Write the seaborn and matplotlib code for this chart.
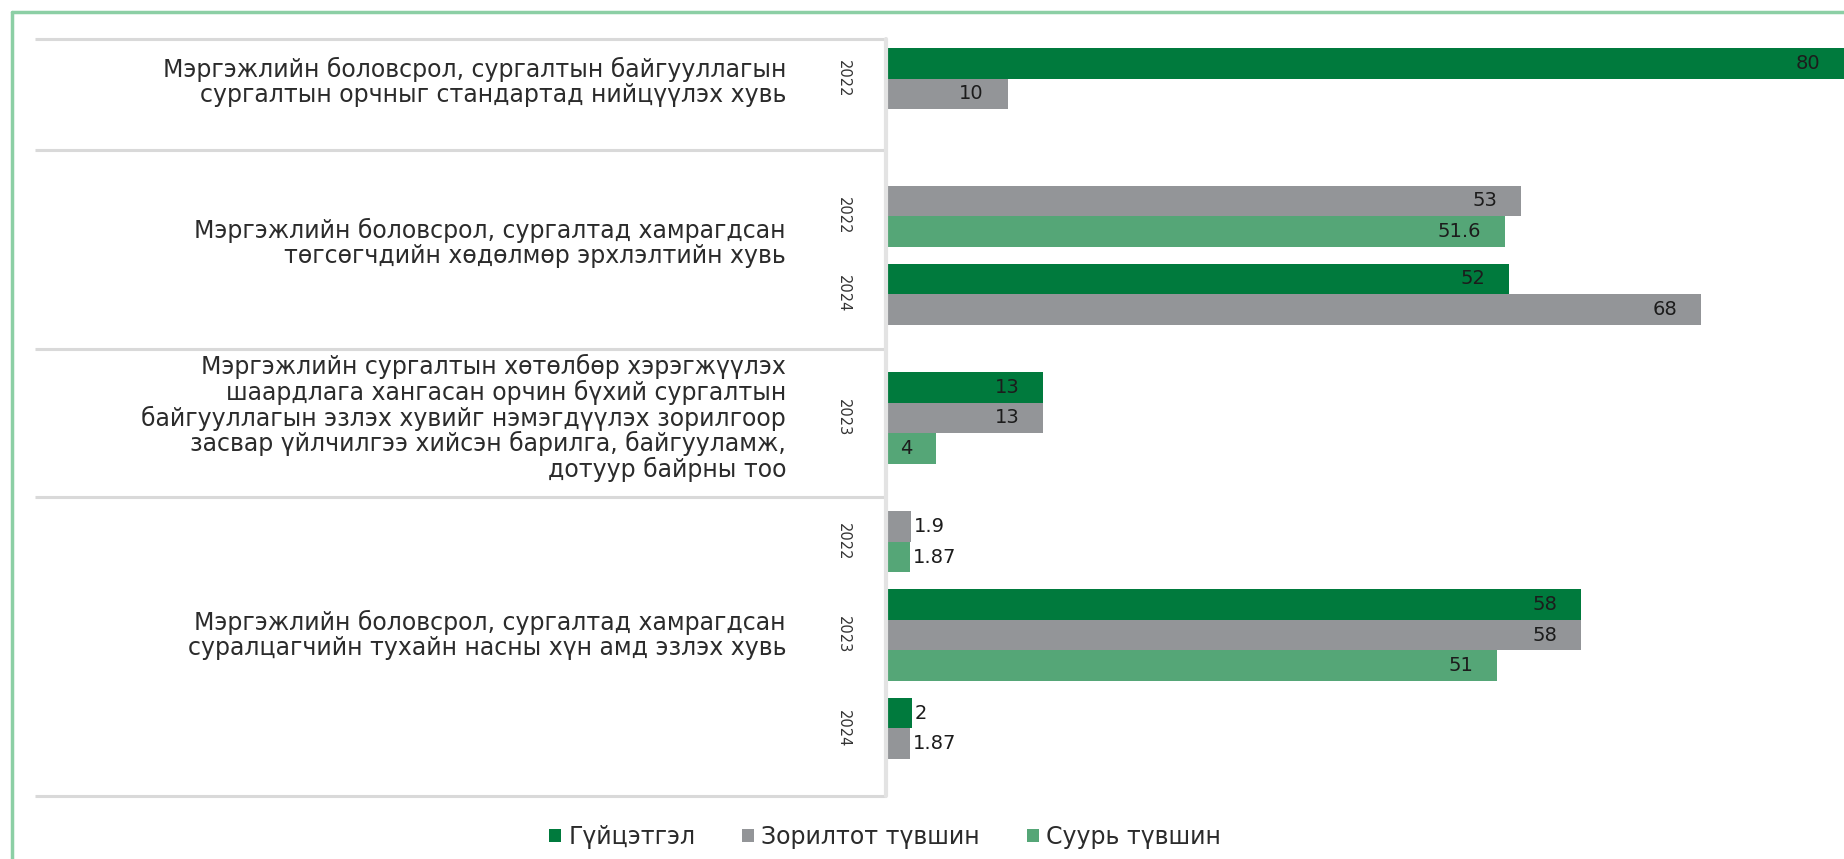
import numpy as np
import pandas as pd
import matplotlib
matplotlib.use("Agg")
import matplotlib.pyplot as plt
import seaborn as sns
from matplotlib.patches import Patch
from matplotlib.lines import Line2D
from matplotlib.transforms import blended_transform_factory

# ---------------- data ----------------
categories = [
    "Мэргэжлийн боловсрол, сургалтын байгууллагын\nсургалтын орчныг стандартад нийцүүлэх хувь",
    "Мэргэжлийн боловсрол, сургалтад хамрагдсан\nтөгсөгчдийн хөдөлмөр эрхлэлтийн хувь",
    "Мэргэжлийн сургалтын хөтөлбөр хэрэгжүүлэх\nшаардлага хангасан орчин бүхий сургалтын\n"
    "байгууллагын эзлэх хувийг нэмэгдүүлэх зорилгоор\nзасвар үйлчилгээ хийсэн барилга, байгууламж,\n"
    "дотуур байрны тоо",
    "Мэргэжлийн боловсрол, сургалтад хамрагдсан\nсуралцагчийн тухайн насны хүн амд эзлэх хувь",
]
years = [["2022"], ["2022", "2024"], ["2023"], ["2022", "2023", "2024"]]
series_names = ["Гүйцэтгэл", "Зорилтот түвшин", "Суурь түвшин"]
guitsetgel = [[80], [None, 52], [13], [None, 58, 2]]
zoriltot = [[10], [53, 68], [13], [1.9, 58, 1.87]]
suur = [[None], [51.6, None], [4], [1.87, 51, None]]
series_values = [guitsetgel, zoriltot, suur]

# ---------------- style / layout ----------------
colors = ["#007a3d", "#939598", "#55a677"]
W, H = 1844, 859
pad_top = [0.3, 1.15, 0.75, 0.45]
pad_bottom = [1.35, 0.8, 1.1, 1.2]
year_gap = 0.55
label_shift = [0.1, -0.4, 0.0, 0.0]   # small vertical nudges of category labels (slots)

# build rows from data structure
rows, seps, year_pos, cat_pos = [], [0.0], [], []
y = 0.0
for gi in range(len(categories)):
    y += pad_top[gi]
    gstart = y
    for yi, yr in enumerate(years[gi]):
        if yi > 0:
            y += year_gap
        ystart = y
        for s, vals in zip(series_names, series_values):
            v = vals[gi][yi]
            if v is not None:
                rows.append({"series": s, "value": v, "pos": y + 0.5})
                y += 1
        year_pos.append((yr, (ystart + y) / 2))
    cat_pos.append((gstart + y) / 2 + label_shift[gi])
    y += pad_bottom[gi]
    seps.append(y)
df = pd.DataFrame(rows)

sns.set_style("white")
plt.rcParams["font.family"] = ["DejaVu Sans"]

fig = plt.figure(figsize=(W / 100, H / 100), dpi=100)
bar_left = 888 / W
ax = fig.add_axes([bar_left, 0, 1 - bar_left, 1])

sns.barplot(data=df, x="value", y="pos", hue="series", hue_order=series_names,
            palette=colors, orient="h", native_scale=True, dodge=False,
            width=1.0, errorbar=None, legend=False, saturation=1, ax=ax,
            linewidth=0)

slot_px = 26 * W / 1568
n_slots = H / slot_px
top_off = 33 * W / 1568 / slot_px
ax.set_xlim(0, 80)
ax.set_ylim(n_slots - top_off, -top_off)
ax.axis("off")

# value labels
for r in rows:
    txt = f"{r['value']:g}"
    if r["value"] < 3:
        ax.annotate(txt, (r["value"], r["pos"]), xytext=(2, 0), textcoords="offset points",
                    ha="left", va="center", fontsize=14, color="#1c1c1c")
    else:
        ax.annotate(txt, (r["value"], r["pos"]), xytext=(-17, 0), textcoords="offset points",
                    ha="right", va="center", fontsize=14, color="#1c1c1c")

tr = blended_transform_factory(fig.transFigure, ax.transData)

# separators
for s in seps:
    ax.plot([35 / W, 886 / W], [s, s], transform=tr, color="#d9d9d9", lw=2.2,
            clip_on=False, solid_capstyle="butt")
ax.plot([886 / W, 886 / W], [seps[0], seps[-1]], transform=tr, color="#e3e3e3",
        lw=3, clip_on=False)

# category labels
for lab, cy in zip(categories, cat_pos):
    ax.text(786 / W, cy, lab, transform=tr, ha="right", va="center",
            fontsize=17, linespacing=1.04, color="#2b2b2b", clip_on=False)

# year labels
for yr, py in year_pos:
    ax.text(843 / W, py, yr, transform=tr, rotation=270, ha="center", va="center",
            fontsize=10.5, color="#333333", clip_on=False)

# green frame
fig.add_artist(Line2D([12 / W, 1], [1 - 12 / H, 1 - 12 / H], color="#8ccfa5", lw=2.5))
fig.add_artist(Line2D([12 / W, 12 / W], [0, 1 - 12 / H], color="#8ccfa5", lw=2.5))

# legend
handles = [Patch(facecolor=c, edgecolor="none", label=n) for c, n in zip(colors, series_names)]
fig.legend(handles=handles, loc="center", bbox_to_anchor=(0.48, 0.026), ncol=3,
           frameon=False, fontsize=17, handlelength=0.5, handleheight=0.5,
           handletextpad=0.3, columnspacing=2.0, labelcolor="#2b2b2b")

fig.savefig("out.png", dpi=100)
